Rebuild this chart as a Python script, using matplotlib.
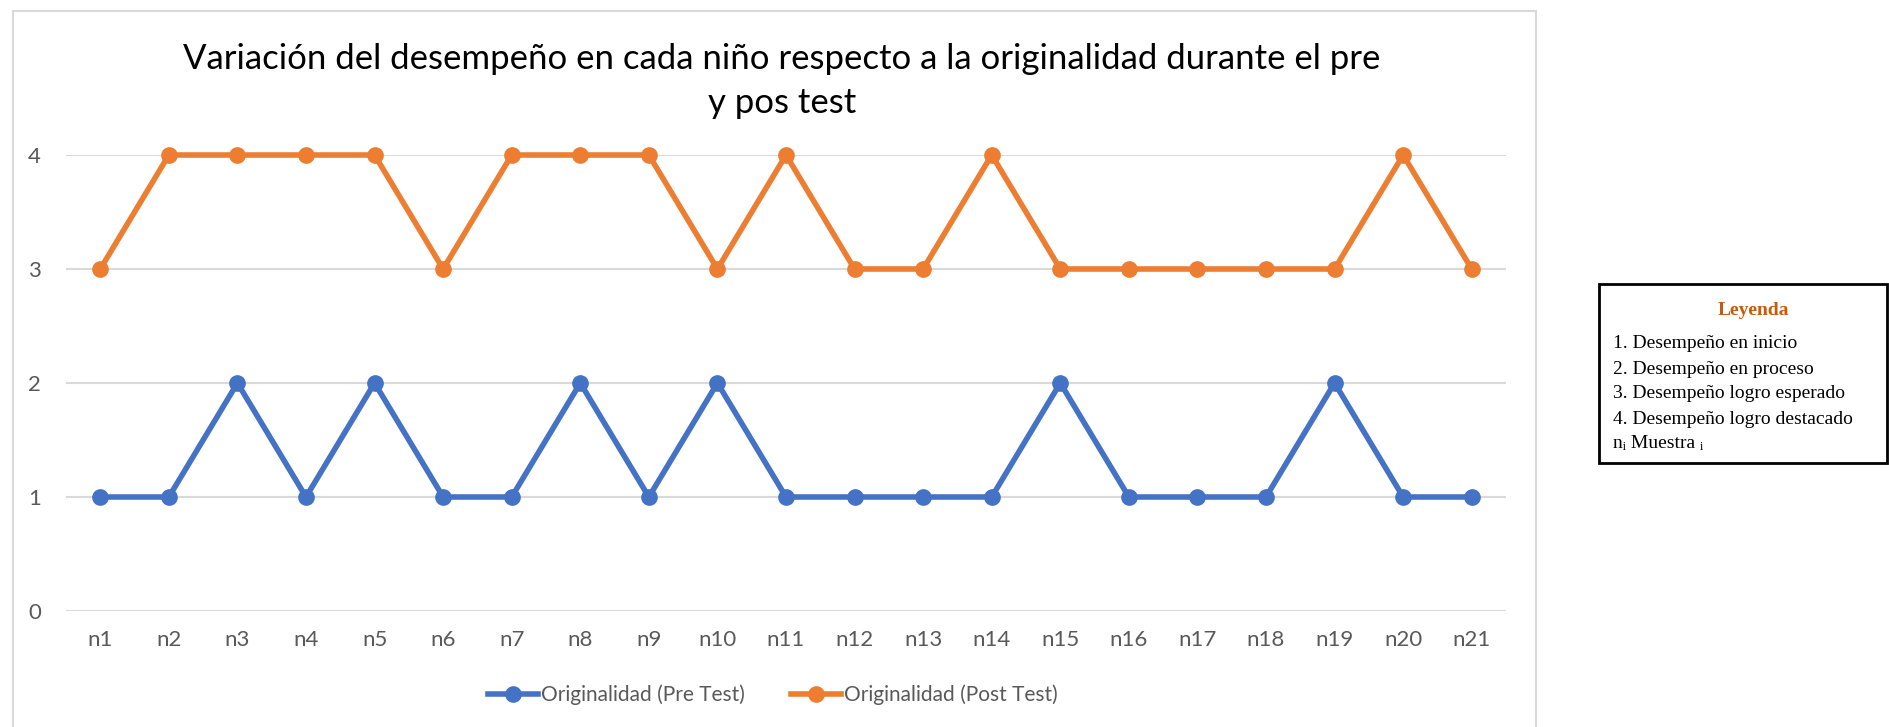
import matplotlib.pyplot as plt
from matplotlib.lines import Line2D
from matplotlib.patches import Rectangle

# data
ninos = ["n" + str(i) for i in range(1, 22)]
pre_test = [1, 1, 2, 1, 2, 1, 1, 2, 1, 2, 1, 1, 1, 1, 2, 1, 1, 1, 2, 1, 1]
post_test = [3, 4, 4, 4, 4, 3, 4, 4, 4, 3, 4, 3, 3, 4, 3, 3, 3, 3, 3, 4, 3]
series_names = ["Originalidad (Pre Test)", "Originalidad (Post Test)"]
titulo = "Variación del desempeño en cada niño respecto a la originalidad durante el pre\ny pos test"
leyenda_items = ["1. Desempeño en inicio", "2. Desempeño en proceso",
                 "3. Desempeño logro esperado", "4. Desempeño logro destacado",
                 "nᵢ Muestra ᵢ"]

BLUE = "#4472C4"
ORANGE = "#ED7D31"
GRAY = "#595959"
W, H = 1889, 727

plt.rcParams['font.family'] = ['Lato', 'DejaVu Sans']

fig = plt.figure(figsize=(W / 100, H / 100), dpi=100)

def fx(px):
    return px / W

def fy(py):
    return (H - py) / H

# outer chart frame (light gray)
fig.add_artist(Line2D([fx(13), fx(1536)], [fy(11), fy(11)], color="#D9D9D9", lw=1.5))
fig.add_artist(Line2D([fx(13), fx(13)], [fy(11), 0], color="#D9D9D9", lw=1.5))
fig.add_artist(Line2D([fx(1536), fx(1536)], [fy(11), 0], color="#D9D9D9", lw=1.5))

ax = fig.add_axes([fx(66), fy(611), fx(1506 - 66), (611 - 155) / H])
x = range(len(ninos))
ax.plot(x, pre_test, color=BLUE, lw=4, marker="o", ms=11, clip_on=False, zorder=3)
ax.plot(x, post_test, color=ORANGE, lw=4, marker="o", ms=11, clip_on=False, zorder=3)

ax.set_xlim(-0.5, len(ninos) - 0.5)
ax.set_ylim(0, 4)
ax.set_yticks([0, 1, 2, 3, 4])
ax.set_xticks(list(x))
ax.set_xticklabels(ninos)
ax.grid(axis="y", color="#D9D9D9", lw=1.5)
ax.set_axisbelow(True)
for s in ax.spines.values():
    s.set_visible(False)
ax.tick_params(axis="both", length=0, labelsize=16, labelcolor=GRAY)
ax.tick_params(axis="y", pad=18)
ax.tick_params(axis="x", pad=14)

fig.text(fx(782), fy(81), titulo, ha="center", va="center", fontsize=25,
         color="#000000", linespacing=1.45)

handles = [Line2D([], [], color=BLUE, lw=4, marker="o", ms=11),
           Line2D([], [], color=ORANGE, lw=4, marker="o", ms=11)]
fig.legend(handles, series_names, loc="center", bbox_to_anchor=(fx(773), fy(695)),
           ncol=2, frameon=False, fontsize=15, labelcolor=GRAY,
           handlelength=2.4, handletextpad=0.15, columnspacing=2.2)

# side box "Leyenda"
fig.add_artist(Rectangle((fx(1599), fy(463)), fx(1887 - 1599), (463 - 284) / H,
                         fill=False, edgecolor="black", lw=2))
fig.text(fx(1753), fy(310), "Leyenda", ha="center", va="center", fontsize=14,
         fontweight="bold", color="#C55A11", family=["Liberation Serif", "DejaVu Serif"])
for i, item in enumerate(leyenda_items):
    fig.text(fx(1613), fy(344 + 25 * i), item, ha="left", va="center", fontsize=14,
             color="black", family=["Liberation Serif", "DejaVu Serif"])

fig.savefig("out.png", dpi=100, facecolor="white")
